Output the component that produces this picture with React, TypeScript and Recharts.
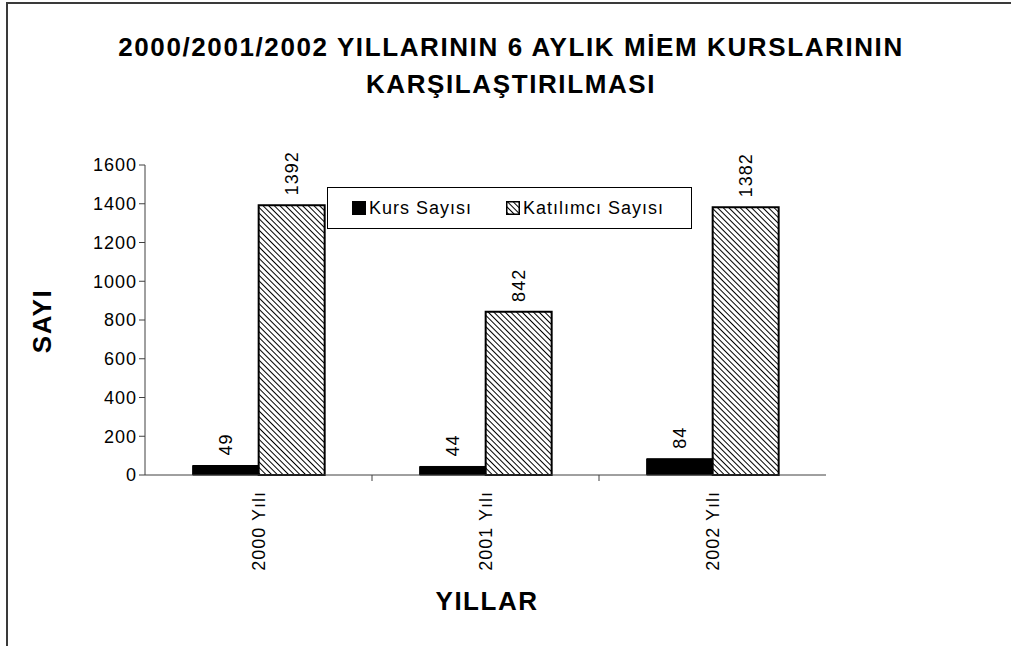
import React from 'react';
import { BarChart, Bar, XAxis, YAxis, LabelList, Legend } from 'recharts';

const years = ['2000 Yılı', '2001 Yılı', '2002 Yılı'];
const kursSayisi = [49, 44, 84];
const katilimciSayisi = [1392, 842, 1382];
const yTicks = [0, 200, 400, 600, 800, 1000, 1200, 1400, 1600];

const data = years.map((year, i) => ({
    year,
    kurs: kursSayisi[i],
    katilimci: katilimciSayisi[i]
}));

const FONT = '"Liberation Sans", Arial, sans-serif';
const AXIS = '#404040';
const BAND = 227;
const LS = 1.0; // the original text is stretched sideways

// value label, rotated, sitting on top of the bar
const RotatedLabel = (props: any) => {
    const { x, y, width, value } = props;
    const cx = x + width / 2 + 6;
    const cy = y - 10;
    return (
        <text x={cx} y={cy} transform={`rotate(-90 ${cx} ${cy})`} textAnchor="start"
            fontFamily={FONT} fontSize={18} letterSpacing={LS} fill="#000">
            {value}
        </text>
    );
};

// category label + tick marks between categories
const CategoryTick = (props: any) => {
    const { x, y, payload, index } = props;
    const lx = x + 6;
    const ly = y + 8;
    return (
        <g>
            <line x1={x + BAND / 2} x2={x + BAND / 2} y1={y - 8} y2={y - 2}
                stroke={AXIS} strokeWidth={1} style={{ display: index === 2 ? 'none' : undefined }} />
            <text x={lx} y={ly} transform={`rotate(-90 ${lx} ${ly})`} textAnchor="end"
                fontFamily={FONT} fontSize={18} letterSpacing={LS} fill="#000">
                {payload.value}
            </text>
        </g>
    );
};

const LegendBox = () => (
    <div style={{
        border: '1px solid #000', background: '#fff', width: 365, height: 42,
        boxSizing: 'border-box', display: 'flex', alignItems: 'center',
        fontFamily: FONT, fontSize: 18, letterSpacing: LS, color: '#000', paddingLeft: 24
    }}>
        <span style={{ display: 'inline-block', width: 14, height: 14, background: '#000', marginRight: 3 }} />
        <span>Kurs Sayısı</span>
        <svg width={14} height={14} style={{ marginLeft: 34, marginRight: 3 }}>
            <rect x={0.75} y={0.75} width={12.5} height={12.5} fill="url(#hatch)" stroke="#000" strokeWidth={1.5} />
        </svg>
        <span>Katılımcı Sayısı</span>
    </div>
);

export default function App() {
    return (
        <div style={{ position: 'absolute', left: 0, top: 0, width: 1011, height: 646, overflow: 'hidden', background: '#fff' }}>
            <div style={{ position: 'absolute', left: 6, top: 2, width: 1100, height: 700, border: '2px solid #3a3a3a' }} />
            <div style={{ position: 'absolute', left: 0, top: 29, width: 1022, textAlign: 'center', fontFamily: FONT, fontWeight: 'bold', fontSize: 26, letterSpacing: 1.6, lineHeight: '37px', color: '#000' }}>
                2000/2001/2002 YILLARININ 6 AYLIK MİEM KURSLARININ<br />KARŞILAŞTIRILMASI
            </div>
            <div style={{ position: 'absolute', left: 0, top: 0 }}>
                <BarChart width={1011} height={646} data={data} barGap={0} barCategoryGap="21%"
                    margin={{ top: 165, right: 185, bottom: 51, left: 0 }}>
                    <defs>
                        <pattern id="hatch" width={4} height={4} patternUnits="userSpaceOnUse" patternTransform="rotate(-45)">
                            <rect width={4} height={4} fill="#fff" />
                            <line x1={0} y1={0} x2={0} y2={4} stroke="#000" strokeWidth={2} />
                        </pattern>
                    </defs>
                    <XAxis dataKey="year" height={120} axisLine={{ stroke: AXIS }} tickLine={false}
                        tick={<CategoryTick />} interval={0} />
                    <YAxis width={145} domain={[0, 1600]} ticks={yTicks} axisLine={{ stroke: AXIS }}
                        tickLine={{ stroke: AXIS }} tickSize={6}
                        tick={{ fontFamily: FONT, fontSize: 18, letterSpacing: LS, fill: '#000' }} />
                    <Legend content={<LegendBox />} layout="vertical" verticalAlign="middle" align="center"
                        wrapperStyle={{ position: 'absolute', left: 327, top: 187, width: 365 }} />
                    <Bar dataKey="kurs" name="Kurs Sayısı" fill="#000" stroke="#000" isAnimationActive={false}>
                        <LabelList dataKey="kurs" content={<RotatedLabel />} />
                    </Bar>
                    <Bar dataKey="katilimci" name="Katılımcı Sayısı" fill="url(#hatch)" stroke="#000" strokeWidth={2} isAnimationActive={false}>
                        <LabelList dataKey="katilimci" content={<RotatedLabel />} />
                    </Bar>
                </BarChart>
            </div>
            <div style={{ position: 'absolute', left: 42, top: 321, transform: 'translate(-50%, -50%) rotate(-90deg)', fontFamily: FONT, fontWeight: 'bold', fontSize: 26, letterSpacing: 1.5, color: '#000' }}>
                SAYI
            </div>
            <div style={{ position: 'absolute', left: 487, top: 601, transform: 'translate(-50%, -50%)', fontFamily: FONT, fontWeight: 'bold', fontSize: 26, letterSpacing: 1.5, color: '#000' }}>
                YILLAR
            </div>
        </div>
    );
}
